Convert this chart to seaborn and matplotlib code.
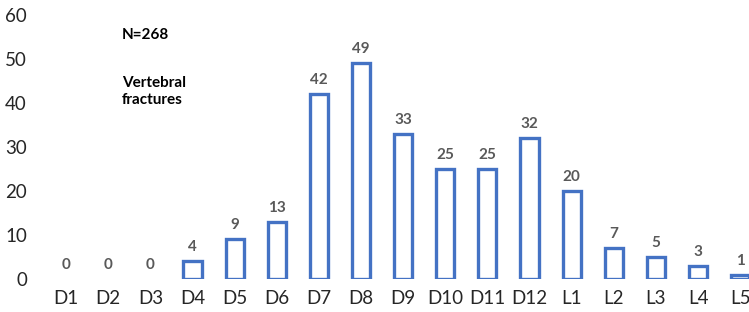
import matplotlib
matplotlib.use("Agg")
import matplotlib.pyplot as plt
import seaborn as sns
import pandas as pd

categories = ["D1", "D2", "D3", "D4", "D5", "D6", "D7", "D8", "D9", "D10", "D11", "D12",
              "L1", "L2", "L3", "L4", "L5"]
counts = [0, 0, 0, 4, 9, 13, 42, 49, 33, 25, 25, 32, 20, 7, 5, 3, 1]
y_ticks = [0, 10, 20, 30, 40, 50, 60]
note_n = "N=268"
note_title = "Vertebral\nfractures"

sns.set_theme(style="white")
plt.rcParams['font.family'] = ['Lato', 'DejaVu Sans']

df = pd.DataFrame({"segment": categories, "count": counts})

fig = plt.figure(figsize=(7.49, 3.12), dpi=100)
ax = fig.add_axes([45/749, 33/312, 704/749, 264/312])

sns.barplot(data=df, x="segment", y="count", color="white", edgecolor="#4472C4",
            linewidth=2.4, width=0.43, saturation=1, ax=ax)

for p, v in zip(ax.patches, counts):
    if v == 0:
        p.set_linewidth(0)

for i, v in enumerate(counts):
    ax.annotate(str(v), (i, v), xytext=(0, 5), textcoords="offset points",
                ha="center", va="bottom", fontsize=11, fontweight="bold", color="#595959")

ax.set_ylim(0, 60)
ax.set_xlim(-0.5, 16.21)
ax.set_yticks(y_ticks)
ax.set_xlabel("")
ax.set_ylabel("")
for s in ax.spines.values():
    s.set_visible(False)
ax.tick_params(axis="both", length=0, labelsize=13.5, colors="#262626")
ax.tick_params(axis="x", pad=8)
ax.tick_params(axis="y", pad=13)

ax.text(1.33, 55.5, note_n, fontsize=11, fontweight="bold", color="black", va="center", ha="left")
ax.text(1.33, 42.6, note_title, fontsize=11, fontweight="bold", color="black", va="center",
        ha="left", linespacing=1.3)

fig.savefig("out.png", dpi=100)
